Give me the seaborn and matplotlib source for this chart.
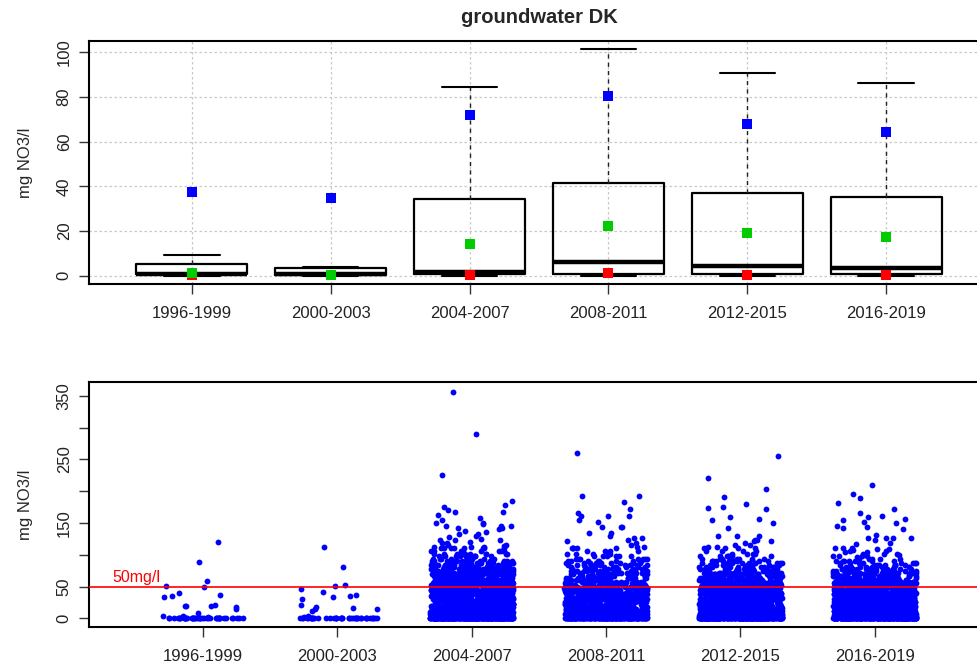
import numpy as np
import pandas as pd
import matplotlib
matplotlib.use("Agg")
import matplotlib.pyplot as plt
import matplotlib.transforms as mtransforms
import seaborn as sns

# ---------------- data ----------------
periods = ["1996-1999", "2000-2003", "2004-2007", "2008-2011", "2012-2015", "2016-2019"]

# top panel: box summaries (mg NO3/l)
box_low = [0.0, 0.0, 0.0, 0.0, 0.0, 0.0]
box_q1 = [0.6, 0.5, 0.7, 0.7, 0.7, 0.7]
box_median = [0.9, 0.7, 1.8, 6.3, 4.3, 3.3]
box_q3 = [5.1, 3.3, 34.3, 41.3, 36.8, 35.0]
box_high = [9.1, 3.9, 84.5, 101.3, 90.7, 86.4]
blue_points = [37.3, 34.9, 72.1, 80.2, 68.0, 64.2]
green_points = [1.2, 0.5, 14.0, 22.2, 19.0, 17.2]
red_points = [0.2, 0.2, 0.5, 1.0, 0.5, 0.5]

# bottom panel: individual measurements
values_1996 = [59, 37, 19, 49, 14, 17, 35, 40, 51, 9, 33, 89, 21, 19, 120, 19, 3, 2, 4, 1] + [0] * 42
values_2000 = [113, 80, 42, 33, 21, 17, 14, 14, 16, 35, 37, 51, 52, 46, 30, 12, 3, 2] + [0] * 42

# dense periods: value levels with number of samples at each level
value_levels = [0, 1.5, 3, 4.5, 6, 8, 10, 12, 14, 16, 18, 20, 22.5, 25, 27.5, 30, 32.5, 35,
                37.5, 40, 42.5, 45, 47.5, 50, 52.5, 55, 57.5, 60, 63, 66, 69, 72, 75, 78,
                81, 84, 87, 90, 94, 98, 102, 106, 110]
counts_2004 = [250, 60, 55, 50, 48, 45, 42, 42, 40, 40, 38, 38, 36, 36, 35, 35, 34, 34, 33, 33,
               32, 32, 30, 30, 28, 27, 26, 25, 30, 28, 26, 24, 22, 20, 18, 16, 14, 13, 12, 11,
               10, 9, 8]
counts_2008 = [160, 45, 40, 38, 36, 34, 32, 32, 30, 30, 29, 28, 27, 27, 26, 26, 25, 25, 24, 24,
               23, 23, 22, 22, 20, 19, 18, 16, 16, 15, 14, 13, 12, 11, 10, 10, 9, 8, 7, 6,
               5, 4, 3]
counts_2012 = [220, 55, 50, 46, 44, 42, 40, 38, 38, 36, 36, 35, 34, 34, 33, 33, 32, 32, 31, 31,
               30, 30, 29, 29, 27, 26, 25, 24, 26, 24, 21, 19, 17, 15, 13, 11, 10, 9, 8, 7,
               5, 4, 3]
counts_2016 = [220, 55, 50, 46, 44, 42, 40, 38, 38, 36, 36, 35, 34, 34, 33, 33, 32, 32, 31, 31,
               30, 30, 29, 28, 27, 25, 23, 21, 24, 21, 19, 17, 15, 13, 11, 9, 8, 7, 5, 4,
               3, 2, 2]
high_2004 = [357, 290, 226, 185, 178, 176, 170, 167, 167, 163, 158, 155, 150, 148, 146, 146, 146,
             150, 142, 142, 132, 132, 128, 123, 123, 123, 120, 118, 116, 115, 113, 112, 112, 130,
             136, 138, 140, 125, 119, 114]
high_2008 = [260, 193, 193, 183, 172, 161, 161, 161, 166, 152, 155, 143, 143, 143, 135, 130, 134,
             127, 121, 111, 126, 123, 110, 113, 87, 75, 81, 118, 115, 112]
high_2012 = [256, 221, 204, 191, 180, 176, 172, 173, 160, 156, 150, 154, 142, 130, 130, 130, 122,
             123, 122, 123, 115, 110, 113, 115, 118, 112]
high_2016 = [210, 195, 189, 181, 172, 165, 161, 152, 155, 160, 156, 150, 145, 143, 142, 141, 131,
             126, 126, 126, 124, 126, 118, 117, 110, 105, 108, 105, 109, 109, 96, 100]

limit_value = 50
limit_label = "50mg/l"

# ---------------- assemble tables ----------------
groups = {
    periods[0]: list(values_1996),
    periods[1]: list(values_2000),
    periods[2]: list(np.repeat(value_levels, counts_2004)) + high_2004,
    periods[3]: list(np.repeat(value_levels, counts_2008)) + high_2008,
    periods[4]: list(np.repeat(value_levels, counts_2012)) + high_2012,
    periods[5]: list(np.repeat(value_levels, counts_2016)) + high_2016,
}
points_df = pd.DataFrame(
    [(p, v) for p, vals in groups.items() for v in vals], columns=["period", "value"]
)
summary_df = pd.DataFrame({"period": periods, "blue": blue_points,
                           "green": green_points, "red": red_points})

# ---------------- style ----------------
sns.set_theme(style="ticks")
plt.rcParams["font.family"] = ["Liberation Sans", "DejaVu Sans"]
FS = 12

fig = plt.figure(figsize=(9.78, 6.66), dpi=100)
W, H = 978.0, 666.0
ax1 = fig.add_axes([89 / W, 1 - 284 / H, 900 / W, 243 / H])
ax2 = fig.add_axes([89 / W, 1 - 627 / H, 900 / W, 245 / H])

# ---------------- top panel ----------------
for col, c in [("red", "#ff0000"), ("green", "#00cc00"), ("blue", "#0000ff")]:
    sns.stripplot(data=summary_df, x="period", y=col, order=periods, color=c, marker="s",
                  size=6.5, jitter=False, linewidth=0, ax=ax1, zorder=6)

stats = [dict(med=m, q1=a, q3=b, whislo=lo, whishi=hi, fliers=[], label=p)
         for p, lo, a, m, b, hi in zip(periods, box_low, box_q1, box_median, box_q3, box_high)]
ax1.bxp(stats, positions=range(len(periods)), widths=0.8, showfliers=False,
        boxprops=dict(color="black", lw=1.6),
        whiskerprops=dict(color="#222222", lw=1.0, linestyle=(0, (3, 3))),
        capprops=dict(color="black", lw=1.5),
        medianprops=dict(color="black", lw=3.2, solid_capstyle="butt"),
        manage_ticks=False, zorder=4)

ax1.set_xlim(-0.74, 5.74)
ax1.set_ylim(-3.7, 105)
ax1.set_yticks([0, 20, 40, 60, 80, 100])
ax1.set_xticks(range(len(periods)))
ax1.set_xticklabels(periods)
ax1.grid(True, color="#c8c8c8", linestyle=(0, (2, 2)), lw=0.9)
ax1.set_axisbelow(True)
ax1.set_xlabel("")
ax1.set_ylabel("mg NO3/l", fontsize=FS)
ax1.yaxis.set_label_coords(-0.062, 0.5)
fig.text(539 / W, 1 - 17.5 / H, "groundwater DK", ha="center", va="center",
         fontsize=14.5, fontweight="bold")

# ---------------- bottom panel ----------------
np.random.seed(3)
sns.stripplot(data=points_df, x="period", y="value", order=periods, color="#0000ff",
              size=4.2, jitter=0.31, linewidth=0, ax=ax2, zorder=3)
ax2.axhline(limit_value, color="red", lw=1.2, zorder=5)
trans = mtransforms.blended_transform_factory(ax2.transAxes, ax2.transData)
ax2.text(0.026, limit_value + 3, limit_label, transform=trans, color="red",
         fontsize=11.5, ha="left", va="bottom")
ax2.set_xlim(-0.849, 5.85)
ax2.set_ylim(-13.7, 372)
yt = [0, 50, 100, 150, 200, 250, 300, 350]
ax2.set_yticks(yt)
ax2.set_yticklabels([str(v) if v in (0, 50, 150, 250, 350) else "" for v in yt])
ax2.set_xlabel("")
ax2.set_ylabel("mg NO3/l", fontsize=FS)
ax2.yaxis.set_label_coords(-0.062, 0.5)

for ax in (ax1, ax2):
    for s in ax.spines.values():
        s.set_visible(True)
        s.set_color("black")
        s.set_linewidth(1.5)
    ax.tick_params(axis="both", direction="out", length=7.5, width=1.0, color="#333333",
                   labelsize=FS, labelcolor="#222222", bottom=True, left=True)
    ax.tick_params(axis="x", pad=8)
    ax.tick_params(axis="y", pad=5)
    for lab in ax.get_yticklabels():
        lab.set_rotation(90)
        lab.set_va("center")

fig.savefig("out.png", dpi=100)
